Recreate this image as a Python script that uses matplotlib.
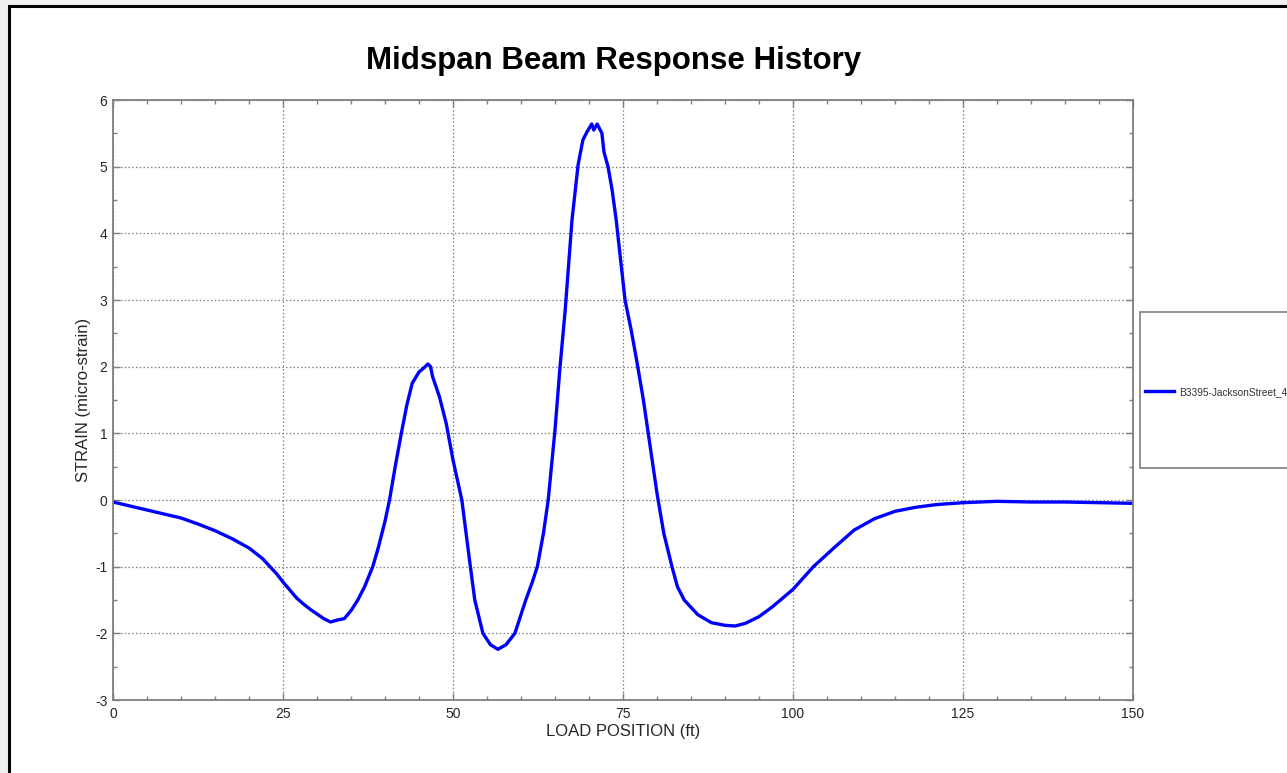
import matplotlib.pyplot as plt
from matplotlib.patches import Rectangle
from matplotlib.ticker import MultipleLocator
from matplotlib.lines import Line2D

plt.rcParams['font.family'] = ['Liberation Sans', 'DejaVu Sans']
plt.rcParams['axes.unicode_minus'] = False

# load position (ft) and midspan strain (micro-strain)
load_pos = [0, 2.5, 5, 7.5, 10, 12.5, 15, 17.5, 20, 22, 24, 25, 26, 27, 28, 29, 30, 31, 32, 33,
            34, 35, 36, 37, 38.2, 39, 40, 40.7, 41.5, 42.4, 43.2, 44, 45, 45.7, 46.3, 46.7,
            47, 48, 49, 50, 51.3, 52.3, 53.2, 54.4, 55.5, 56.6, 57.8, 59.1, 60.7, 61.6,
            62.4, 63.3, 64, 65, 65.7, 66.5, 67.5, 68.4, 69.1, 69.7, 70.4, 70.7, 71.2, 71.9,
            72.2, 72.8, 73.4, 74, 75.3, 76.2, 77, 78, 79, 80, 81, 82.2, 83, 84, 86, 88, 90,
            91.5, 93, 95, 97, 100, 103, 106, 109, 112, 115, 118, 121, 125, 130, 135, 140,
            145, 150]
strain = [-0.03, -0.09, -0.15, -0.21, -0.27, -0.36, -0.46, -0.58, -0.72, -0.88, -1.10, -1.23,
          -1.35, -1.47, -1.56, -1.64, -1.71, -1.78, -1.83, -1.80, -1.78, -1.66, -1.50, -1.30,
          -1.00, -0.72, -0.32, 0.02, 0.50, 1.00, 1.42, 1.75, 1.92, 1.98, 2.04, 2.00, 1.85,
          1.55, 1.15, 0.60, 0.00, -0.80, -1.50, -2.00, -2.17, -2.24, -2.17, -2.00, -1.50,
          -1.25, -1.00, -0.50, 0.00, 1.05, 1.95, 2.85, 4.20, 5.03, 5.40, 5.52, 5.64, 5.55,
          5.64, 5.50, 5.22, 5.00, 4.65, 4.20, 3.00, 2.55, 2.10, 1.50, 0.80, 0.10, -0.50,
          -1.00, -1.30, -1.50, -1.72, -1.84, -1.88, -1.89, -1.85, -1.75, -1.60, -1.34, -1.00,
          -0.72, -0.45, -0.28, -0.17, -0.11, -0.07, -0.04, -0.02, -0.03, -0.03, -0.04, -0.05]

series_name = 'B3395-JacksonStreet_4'
x_ticks = [0, 25, 50, 75, 100, 125, 150]
y_ticks = [-3, -2, -1, 0, 1, 2, 3, 4, 5, 6]

W, H = 1287, 773
fig = plt.figure(figsize=(W / 100, H / 100), dpi=100, facecolor='#efefef')

# white page with black border (top/left visible)
fig.patches.append(Rectangle((9 / W, -0.1), 1.2, 1 - 6 / H + 0.1, transform=fig.transFigure,
                             facecolor='white', edgecolor='black', lw=2.2, zorder=-2))

ax = fig.add_axes([113 / W, 1 - 700 / H, (1133 - 113) / W, 600 / H])
ax.set_zorder(1)
ax.plot(load_pos, strain, color='#0000ff', lw=2.4)

ax.set_xlim(0, 150)
ax.set_ylim(-3, 6)
ax.set_xticks(x_ticks)
ax.set_yticks(y_ticks)
ax.xaxis.set_minor_locator(MultipleLocator(5))
ax.yaxis.set_minor_locator(MultipleLocator(0.5))
ax.tick_params(which='both', direction='in', top=True, right=True, color='#7f7f7f',
               labelsize=10, labelcolor='#262626')
ax.tick_params(axis='x', pad=5)
ax.tick_params(axis='y', pad=4)
ax.tick_params(which='major', length=5, width=1)
ax.tick_params(which='minor', length=3, width=1)
for s in ax.spines.values():
    s.set_color('#7f7f7f')
    s.set_linewidth(1.3)
ax.grid(True, which='major', linestyle=(0, (1.2, 1.8)), color='#808080', lw=0.9)

ax.set_xlabel('LOAD POSITION (ft)', fontsize=12, color='#262626', labelpad=2)
ax.set_ylabel('STRAIN (micro-strain)', fontsize=12, color='#262626', labelpad=3)

fig.text(614 / W, 1 - 61 / H, 'Midspan Beam Response History', ha='center', va='center',
         fontsize=22.5, fontweight='bold')

# legend box, running off the right edge
fig.patches.append(Rectangle((1140 / W, 1 - 468 / H), 0.2, 156 / H, transform=fig.transFigure,
                             facecolor='white', edgecolor='#7f7f7f', lw=1.2, zorder=-1))
fig.legend(handles=[Line2D([], [], color='#0000ff', lw=2.4)], labels=[series_name],
           loc='center left', bbox_to_anchor=(1145 / W, 1 - 392 / H), frameon=False,
           fontsize=7.3, handlelength=2.9, handletextpad=0.5, borderaxespad=0,
           borderpad=0, labelcolor='#333333')

fig.savefig('out.png', dpi=100, facecolor=fig.get_facecolor())
